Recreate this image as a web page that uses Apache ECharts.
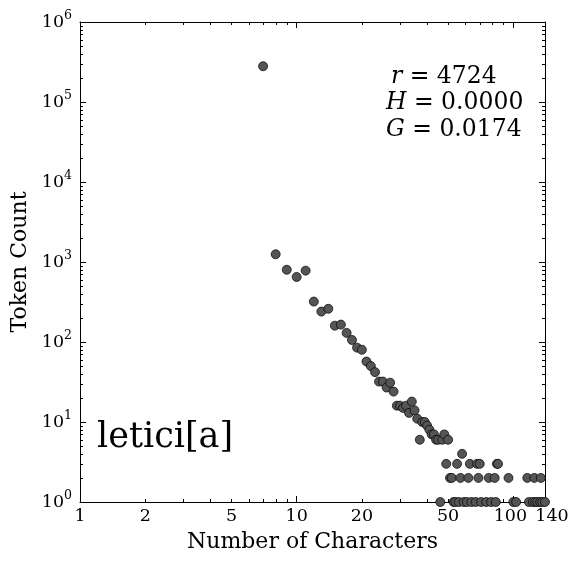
<!DOCTYPE html>
<html>
<head>
    <meta charset="utf-8" />
    <title></title>
    <script src="https://cdn.jsdelivr.net/npm/echarts@6/dist/echarts.min.js"></script>
    <style>html, body { margin: 0; padding: 0; background: #fff; }</style>
</head>
<body>
<div id="main" style="width: 583px; height: 564px"></div>
<script type="text/javascript">
    // number of characters vs token count
    var charCounts = [7, 8, 9, 10, 11, 12, 13, 14, 15, 16, 17, 18, 19, 20, 21, 22, 23, 24, 25, 26,
        27, 28, 29, 30, 31, 32, 33, 34, 35, 36, 37, 38, 39, 40, 41, 42, 43, 44, 45, 46,
        47, 48, 49, 50, 51, 52, 53, 54, 55, 56, 57, 58, 59, 61, 62, 63, 64, 67, 68, 69,
        70, 71, 75, 77, 79, 82, 83, 84, 85, 95, 100, 103, 116, 118, 123, 125, 126, 129, 133, 134,
        136, 140];
    var tokenCounts = [280000, 1250, 800, 650, 780, 320, 240, 260, 160, 165, 130, 106, 85, 80, 57, 50, 42, 32, 32, 27,
        31, 24, 16, 16, 15, 16, 13, 18, 14, 11, 6, 10, 10, 9, 8, 7, 7, 6, 6, 1,
        6, 7, 3, 6, 2, 2, 1, 1, 3, 1, 2, 4, 1, 1, 2, 3, 1, 1, 3, 2,
        3, 1, 1, 2, 1, 2, 1, 3, 3, 2, 1, 1, 2, 1, 1, 2, 1, 1, 1, 2,
        1, 1];
    var xTickLabels = [1, 2, 5, 10, 20, 50, 100, 140];
    var statNames = ['r', 'H', 'G'];
    var statValues = ['4724', '0.0000', '0.0174'];
    var wordLabel = 'letici[a]';

    var font = 'DejaVu Serif';
    var points = [];
    for (var i = 0; i < charCounts.length; i++) {
        points.push([charCounts[i], tokenCounts[i]]);
    }

    var myChart = echarts.init(document.getElementById('main'));

    function axisCommon(pos, show) {
        return {
            type: 'log',
            logBase: 10,
            position: pos,
            axisLine: { show: true, lineStyle: { color: '#000', width: 1 } },
            axisTick: { show: true, inside: true, length: 6, lineStyle: { color: '#000', width: 1 } },
            splitLine: { show: false },
            minorTick: { show: false },
            axisLabel: { show: show }
        };
    }

    var xBottom = axisCommon('bottom', false);
    xBottom.min = 1; xBottom.max = 140;
    xBottom.name = 'Number of Characters';
    xBottom.nameLocation = 'middle';
    xBottom.nameGap = 29;
    xBottom.nameTextStyle = { fontFamily: font, fontSize: 22, color: '#000' };
    var xTop = axisCommon('top', false);
    xTop.min = 1; xTop.max = 140;

    var yLeft = axisCommon('left', true);
    yLeft.min = 1; yLeft.max = 1000000;
    yLeft.name = 'Token Count';
    yLeft.nameLocation = 'middle';
    yLeft.nameGap = 48;
    yLeft.nameTextStyle = { fontFamily: font, fontSize: 22, color: '#000' };
    yLeft.axisLabel = {
        show: true,
        margin: 8,
        formatter: function (v) {
            var e = Math.round(Math.log(v) / Math.LN10);
            return '{b|10}{s|' + e + '}';
        },
        rich: {
            b: { fontFamily: font, fontSize: 17.5, color: '#000' },
            s: { fontFamily: font, fontSize: 12.5, color: '#000', padding: [0, 0, 12, 0] }
        }
    };
    var yRight = axisCommon('right', false);
    yRight.min = 1; yRight.max = 1000000;

    myChart.setOption({
        backgroundColor: '#fff',
        animation: false,
        grid: { left: 80, top: 22, width: 465, height: 480 },
        xAxis: [xBottom, xTop],
        yAxis: [yLeft, yRight],
        series: [{
            type: 'scatter',
            xAxisIndex: 0,
            yAxisIndex: 0,
            data: points,
            symbol: 'circle',
            symbolSize: 9,
            clip: false,
            itemStyle: { color: '#555555', borderColor: '#000', borderWidth: 0.7, opacity: 1 },
            z: 5
        }]
    });

    // minor ticks, x tick labels and the text boxes
    var els = [];
    function px(v) { return myChart.convertToPixel({ xAxisIndex: 0 }, v); }
    function py(v) { return myChart.convertToPixel({ yAxisIndex: 0 }, v); }
    var gTop = 22, gBottom = 502, gLeft = 80, gRight = 545;
    var k, m, p;
    for (k = 1; k <= 10; k *= 10) {
        for (m = 2; m <= 9; m++) {
            p = Math.round(px(m * k)) + 0.5;
            els.push({ type: 'line', shape: { x1: p, y1: gBottom, x2: p, y2: gBottom - 3 }, style: { stroke: '#000', lineWidth: 1 } });
            els.push({ type: 'line', shape: { x1: p, y1: gTop, x2: p, y2: gTop + 3 }, style: { stroke: '#000', lineWidth: 1 } });
        }
    }
    for (k = 1; k <= 100000; k *= 10) {
        for (m = 2; m <= 9; m++) {
            p = Math.round(py(m * k)) + 0.5;
            els.push({ type: 'line', shape: { x1: gLeft, y1: p, x2: gLeft + 3, y2: p }, style: { stroke: '#000', lineWidth: 1 } });
            els.push({ type: 'line', shape: { x1: gRight, y1: p, x2: gRight - 3, y2: p }, style: { stroke: '#000', lineWidth: 1 } });
        }
    }
    // the last two labels sit a little apart in the original so they don't collide
    var labelNudge = { 100: -3, 140: 7 };
    xTickLabels.forEach(function (v) {
        els.push({
            type: 'text',
            x: px(v) + (labelNudge[v] || 0), y: 516,
            style: { text: String(v), font: '17.5px "DejaVu Serif"', fill: '#000', textAlign: 'center', textVerticalAlign: 'middle' }
        });
    });
    var statX = [391, 386, 386];
    var statY = [77, 103, 130];
    statNames.forEach(function (n, j) {
        els.push({
            type: 'text',
            x: statX[j], y: statY[j],
            style: {
                text: '{i|' + n + '}{t| = ' + statValues[j] + '}',
                fill: '#000',
                textAlign: 'left', textVerticalAlign: 'middle',
                rich: {
                    i: { fontFamily: font, fontSize: 23.5, fontStyle: 'italic', color: '#000' },
                    t: { fontFamily: font, fontSize: 23.5, color: '#000' }
                }
            }
        });
    });
    els.push({
        type: 'text',
        x: 97, y: 438,
        style: { text: wordLabel, font: '35px "DejaVu Serif"', fill: '#000', textAlign: 'left', textVerticalAlign: 'middle' }
    });
    myChart.setOption({ graphic: { elements: els } });
</script>
</body>
</html>
